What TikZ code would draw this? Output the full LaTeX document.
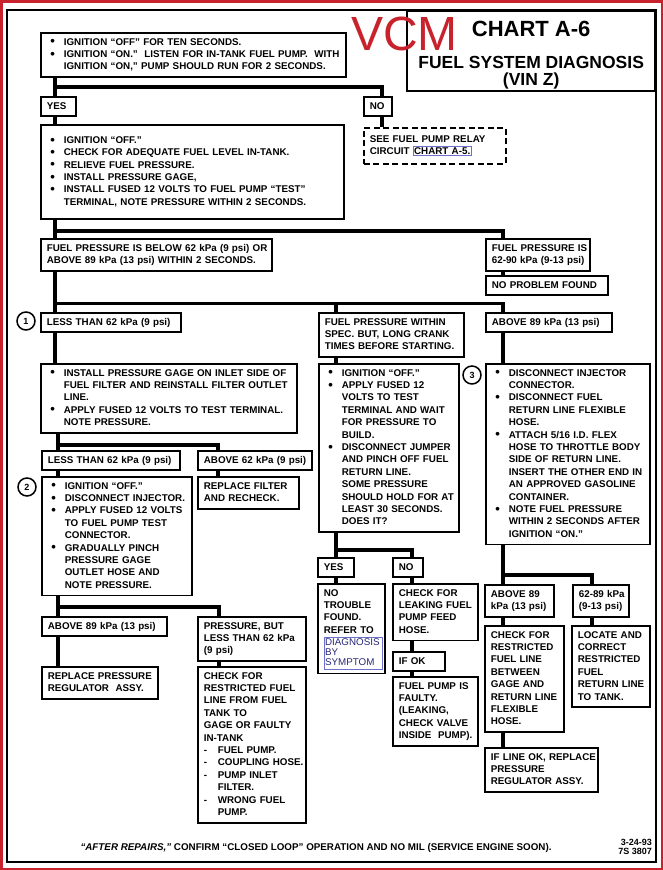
\documentclass[tikz,border=0pt]{standalone}
\usepackage{fontspec}
\setmainfont{Liberation Sans}
\usepackage{xcolor}
\definecolor{scanred}{RGB}{200,35,45}
\definecolor{linkframe}{RGB}{110,110,205}
\definecolor{linktext}{RGB}{40,40,120}
\newcommand\chartfont{\fontsize{9.8}{12.4}\selectfont\bfseries}
\newcommand\itm{\leavevmode\llap{\raisebox{-0.7pt}{\fontsize{13}{12}\selectfont\textbullet}\hspace{9pt}}}
\newcommand\dsh{\makebox[14pt][l]{-}}
\newcommand\lnk[1]{{\fboxsep=0.8pt\fboxrule=0.5pt\fcolorbox{linkframe}{white}{#1}}}
\newcommand\symlink{\lnk{\color{linktext}\fontsize{9.8}{10}\selectfont\mdseries
  \begin{tabular}[t]{@{}l@{\hspace{2pt}}}DIAGNOSIS\\BY\\SYMPTOM\end{tabular}}}
\tikzset{
  box/.style={draw, line width=1.7pt, anchor=north west, align=left,
    inner xsep=6pt, inner ysep=3.5pt, font=\chartfont,
    execute at begin node={\rightskip=-40pt plus 1fil\relax\strut},
    execute at end node={\strut}},
  bbox/.style={box, execute at begin node={\leftskip=17pt\relax}},
  dashbox/.style={box, dash pattern=on 6pt off 3.5pt},
  num/.style={draw, circle, line width=1.5pt, minimum size=18pt, inner sep=0pt,
    font=\fontsize{9}{9}\selectfont\bfseries},
  link/.style={line width=3.8pt},
  titlebox/.style={draw, line width=1.7pt, anchor=north east,
    minimum width=248pt, minimum height=80pt}
}

\begin{document}
\begin{tikzpicture}[x=1pt, y=-1pt]
  \useasboundingbox (0,0) rectangle (663,870);
  % scan border and chart frame
  \draw[scanred, line width=2.5pt] (1.25,1.25) rectangle (661.75,868.75);
  \draw[line width=1.6pt] (7,10) rectangle (656,862);

  % title block
  \node[titlebox] (ttl) at (656,10) {};
  \node[anchor=base, font=\fontsize{22}{22}\selectfont\bfseries] (ttla) at ([yshift=-26pt]ttl.north) {CHART A-6};
  \node[anchor=base, font=\fontsize{17.5}{17.5}\selectfont\bfseries] (ttlb) at ([yshift=-58pt]ttl.north) {FUEL SYSTEM DIAGNOSIS};
  \node[anchor=base, font=\fontsize{17.5}{17.5}\selectfont\bfseries] (ttlc) at ([yshift=-75pt]ttl.north) {(VIN Z)};
  \node[anchor=base west, text=scanred, font=\fontsize{48}{48}\selectfont, inner sep=0pt] (vcm) at (351,50) {VCM};

  % first checks
  \node[bbox, text width=293pt] (start) at (40,32) {\itm IGNITION “OFF” FOR TEN SECONDS.\\
    \itm IGNITION “ON.”\ \ LISTEN FOR IN-TANK FUEL PUMP.\ \ WITH\\
    IGNITION “ON,” PUMP SHOULD RUN FOR 2 SECONDS.};
  \node[box, text width=23pt] (yes1) at (40,96) {YES};
  \node[box, text width=16pt] (no1) at (363,96) {NO};
  \node[bbox, text width=291pt, minimum height=94pt] (check) at (40,124) {\itm IGNITION “OFF.”\\
    \itm CHECK FOR ADEQUATE FUEL LEVEL IN-TANK.\\
    \itm RELIEVE FUEL PRESSURE.\\
    \itm INSTALL PRESSURE GAGE,\\
    \itm INSTALL FUSED 12 VOLTS TO FUEL PUMP “TEST”\\
    TERMINAL, NOTE PRESSURE WITHIN 2 SECONDS.};
  \node[dashbox, text width=130pt, minimum height=36pt] (relay) at (363,127) {SEE FUEL PUMP RELAY\\
    CIRCUIT \lnk{CHART A-5.}};

  % pressure result
  \node[box, text width=219pt] (below) at (40,238) {FUEL PRESSURE IS BELOW 62 kPa (9 psi) OR\\
    ABOVE 89 kPa (13 psi) WITHIN 2 SECONDS.};
  \node[box, text width=92pt] (inspec) at (485,238) {FUEL PRESSURE IS\\62-90 kPa (9-13 psi)};
  \node[box, text width=110pt] (noprob) at (485,275) {NO PROBLEM FOUND};

  \node[num] (c1) at (26,321) {1};
  \node[box, text width=128pt] (less1) at (40,312) {LESS THAN 62 kPa (9 psi)};
  \node[box, text width=133pt] (crank) at (318,312) {FUEL PRESSURE WITHIN\\
    SPEC. BUT, LONG CRANK\\TIMES BEFORE STARTING.};
  \node[box, text width=114pt] (above1) at (485,312) {ABOVE 89 kPa (13 psi)};

  \node[bbox, text width=244pt] (inlet) at (40,363) {\itm INSTALL PRESSURE GAGE ON INLET SIDE OF\\
    FUEL FILTER AND REINSTALL FILTER OUTLET\\LINE.\\
    \itm APPLY FUSED 12 VOLTS TO TEST TERMINAL.\\NOTE PRESSURE.};
  \node[bbox, text width=128pt] (hold) at (318,363) {\itm IGNITION “OFF.”\\
    \itm APPLY FUSED 12\\VOLTS TO TEST\\TERMINAL AND WAIT\\FOR PRESSURE TO\\BUILD.\\
    \itm DISCONNECT JUMPER\\AND PINCH OFF FUEL\\RETURN LINE.\\SOME PRESSURE\\
    SHOULD HOLD FOR AT\\LEAST 30 SECONDS.\\DOES IT?};
  \node[num] (c3) at (472,375) {3};
  \node[bbox, text width=152pt] (flex) at (485,363) {\itm DISCONNECT INJECTOR\\CONNECTOR.\\
    \itm DISCONNECT FUEL\\RETURN LINE FLEXIBLE\\HOSE.\\
    \itm ATTACH 5/16 I.D. FLEX\\HOSE TO THROTTLE BODY\\SIDE OF RETURN LINE.\\
    INSERT THE OTHER END IN\\AN APPROVED GASOLINE\\CONTAINER.\\
    \itm NOTE FUEL PRESSURE\\WITHIN 2 SECONDS AFTER\\IGNITION “ON.”};

  % left branch
  \node[box, text width=126pt] (less2) at (41,450) {LESS THAN 62 kPa (9 psi)};
  \node[box, text width=102pt] (above2) at (197,450) {ABOVE 62 kPa (9 psi)};
  \node[num] (c2) at (27,487) {2};
  \node[bbox, text width=138pt] (pinch) at (41,476) {\itm IGNITION “OFF.”\\
    \itm DISCONNECT INJECTOR.\\
    \itm APPLY FUSED 12 VOLTS\\TO FUEL PUMP TEST\\CONNECTOR.\\
    \itm GRADUALLY PINCH\\PRESSURE GAGE\\OUTLET HOSE AND\\NOTE PRESSURE.};
  \node[box, text width=89pt] (filter) at (197,476) {REPLACE FILTER\\AND RECHECK.};
  \node[box, text width=113pt] (above3) at (41,616) {ABOVE 89 kPa (13 psi)};
  \node[box, text width=96pt] (some) at (197,616) {PRESSURE, BUT\\LESS THAN 62 kPa\\(9 psi)};
  \node[box, text width=104pt] (regul) at (41,666) {REPLACE PRESSURE\\REGULATOR\ \ ASSY.};
  \node[box, text width=96pt] (restr) at (197,666) {CHECK FOR\\RESTRICTED FUEL\\
    LINE FROM FUEL\\TANK TO\\GAGE OR FAULTY\\IN-TANK\\
    \dsh FUEL PUMP.\\\dsh COUPLING HOSE.\\\dsh PUMP INLET\\\hspace*{14pt}FILTER.\\
    \dsh WRONG FUEL\\\hspace*{14pt}PUMP.};

  % middle branch
  \node[box, text width=24pt] (yes2) at (317,557) {YES};
  \node[box, text width=18pt] (no2) at (392,557) {NO};
  \node[box, text width=55pt] (notrbl) at (317,583) {NO\\TROUBLE\\FOUND.\\REFER TO\\\symlink};
  \node[box, text width=73pt] (leak) at (392,583) {CHECK FOR\\LEAKING FUEL\\PUMP FEED\\HOSE.};
  \node[box, text width=40pt] (ifok) at (392,651) {IF OK};
  \node[box, text width=73pt] (faulty) at (392,676) {FUEL PUMP IS\\FAULTY.\\(LEAKING,\\
    CHECK VALVE\\INSIDE\ \ PUMP).};

  % right branch
  \node[box, text width=57pt] (above4) at (484,584) {ABOVE 89\\kPa (13 psi)};
  \node[box, text width=44pt] (mid) at (572,584) {62-89 kPa\\(9-13 psi)};
  \node[box, text width=67pt] (betw) at (484,625) {CHECK FOR\\RESTRICTED\\FUEL LINE\\
    BETWEEN\\GAGE AND\\RETURN LINE\\FLEXIBLE\\HOSE.};
  \node[box, text width=66pt] (locate) at (571,625) {LOCATE AND\\CORRECT\\RESTRICTED\\FUEL\\
    RETURN LINE\\TO TANK.};
  \node[box, text width=101pt] (replace) at (484,747) {IF LINE OK, REPLACE\\PRESSURE\\
    REGULATOR ASSY.};

  % footer
  \node[anchor=base, font=\fontsize{9.8}{12}\selectfont\bfseries] (note) at (316,850)
    {\textit{“AFTER REPAIRS,”} CONFIRM “CLOSED LOOP” OPERATION AND NO MIL (SERVICE ENGINE SOON).};
  \node[anchor=north east, align=right, inner sep=0pt, font=\fontsize{9}{8.7}\selectfont\bfseries] (code) at (652,839)
    {3-24-93\\7S 3807};

  % connectors
  \draw[link] ([xshift=15pt]start.south west) -- ([xshift=15pt]start.south west |- yes1.north);
  \draw[link] ([xshift=15pt]start.south west) ++(0,9) -| ([xshift=19pt]no1.north west);
  \draw[link] ([xshift=15pt]yes1.south west) -- ([xshift=15pt]yes1.south west |- check.north);
  \draw[link] ([xshift=19pt]no1.south west) -- ([xshift=19pt]no1.south west |- relay.north);
  \draw[link] ([xshift=15pt]check.south west) -- ([xshift=15pt]check.south west |- below.north);
  \draw[link] ([xshift=15pt]check.south west) ++(0,11) -| ([xshift=18pt]inspec.north west);
  \draw[link] ([xshift=18pt]inspec.south west) -- ([xshift=18pt]inspec.south west |- noprob.north);
  \draw[link] ([xshift=15pt]below.south west) -- ([xshift=15pt]below.south west |- less1.north);
  \draw[link] ([xshift=15pt]below.south west) ++(0,32) -| ([xshift=18pt]above1.north west);
  \draw[link] ([xshift=18pt]crank.north west) -- ++(0,-10);
  \draw[link] ([xshift=15pt]less1.south west) -- ([xshift=15pt]less1.south west |- inlet.north);
  \draw[link] ([xshift=18pt]crank.south west) -- ([xshift=18pt]crank.south west |- hold.north);
  \draw[link] ([xshift=18pt]above1.south west) -- ([xshift=18pt]above1.south west |- flex.north);
  \draw[link] ([xshift=18pt]inlet.south west) -- ([xshift=18pt]inlet.south west |- less2.north);
  \draw[link] ([xshift=18pt]inlet.south west) ++(0,11) -| ([xshift=21pt]above2.north west);
  \draw[link] ([xshift=17pt]less2.south west) -- ([xshift=17pt]less2.south west |- pinch.north);
  \draw[link] ([xshift=21pt]above2.south west) -- ([xshift=21pt]above2.south west |- filter.north);
  \draw[link] ([xshift=17pt]pinch.south west) -- ([xshift=17pt]pinch.south west |- above3.north);
  \draw[link] ([xshift=17pt]pinch.south west) ++(0,10.5) -| ([xshift=22pt]some.north west);
  \draw[link] ([xshift=17pt]above3.south west) -- ([xshift=17pt]above3.south west |- regul.north);
  \draw[link] ([xshift=22pt]some.south west) -- ([xshift=22pt]some.south west |- restr.north);
  \draw[link] ([xshift=18pt]hold.south west) -- ([xshift=18pt]hold.south west |- yes2.north);
  \draw[link] ([xshift=18pt]hold.south west) ++(0,17) -| ([xshift=20pt]no2.north west);
  \draw[link] ([xshift=19pt]yes2.south west) -- ([xshift=19pt]yes2.south west |- notrbl.north);
  \draw[link] ([xshift=20pt]no2.south west) -- ([xshift=20pt]no2.south west |- leak.north);
  \draw[link] ([xshift=20pt]leak.south west) -- ([xshift=20pt]leak.south west |- ifok.north);
  \draw[link] ([xshift=20pt]ifok.south west) -- ([xshift=20pt]ifok.south west |- faulty.north);
  \draw[link] ([xshift=18pt]flex.south west) -- ([xshift=18pt]flex.south west |- above4.north);
  \draw[link] ([xshift=18pt]flex.south west) ++(0,29.5) -| ([xshift=20pt]mid.north west);
  \draw[link] ([xshift=19pt]above4.south west) -- ([xshift=19pt]above4.south west |- betw.north);
  \draw[link] ([xshift=19pt]betw.south west) -- ([xshift=19pt]betw.south west |- replace.north);
  \draw[link] ([xshift=20pt]mid.south west) -- ([xshift=20pt]mid.south west |- locate.north);
\end{tikzpicture}
\end{document}
